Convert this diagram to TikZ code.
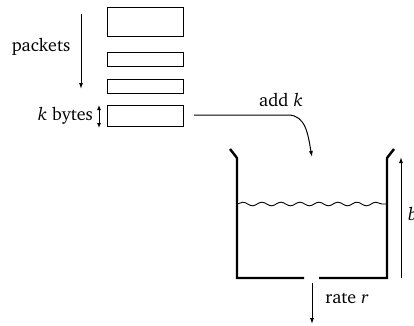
\documentclass[tikz,border=0pt]{standalone}
\usepackage[T1]{fontenc}
\usepackage{charter}
\usetikzlibrary{arrows.meta,decorations.pathmorphing}
\tikzset{
  packet/.style={draw, line width=1pt, inner sep=0pt, minimum width=76pt},
  wall/.style={line width=2.4pt},
  thin arrow/.style={line width=1pt, -{Latex[length=6pt,width=4pt]}},
  lbl/.style={inner sep=1pt, font=\fontsize{18}{21}\selectfont}
}
\begin{document}
\begin{tikzpicture}[x=1pt, y=-1pt]
  \useasboundingbox (0,0) rectangle (414,325);
  % queue of packets
  \node[packet, minimum height=29pt] (p1) at (145,22) {};
  \node[packet, minimum height=14pt] (p2) at (145,59) {};
  \node[packet, minimum height=14pt] (p3) at (145,86) {};
  \node[packet, minimum height=21pt] (p4) at (145,116) {};
  % direction of arrival
  \coordinate (qtop) at (81,14);
  \coordinate (qbot) at (81,89);
  \draw[thin arrow] (qtop) -- (qbot);
  \node[lbl] (pk) at (41,47) {packets};
  % packet size
  \coordinate (kt) at (99,105);
  \coordinate (kb) at (99,128);
  \draw[line width=1pt, {Latex[length=5pt,width=4pt]}-{Latex[length=5pt,width=4pt]}] (kt) -- (kb);
  \node[lbl, anchor=east] (kbytes) at (94,116) {\textit{k} bytes};
  % packet dropped into the bucket
  \coordinate (addst) at (194,115);
  \coordinate (addk) at (312,157);
  \draw[thin arrow] (addst) -- (288,115) .. controls (306,115) and (308,135) .. (addk);
  \node[lbl] (addlbl) at (281,100) {add \textit{k}};
  % bucket
  \coordinate (lt) at (230,149);
  \coordinate (ls) at (237,158);
  \coordinate (lb) at (237,278);
  \coordinate (ho) at (304,278);
  \coordinate (hi) at (319,278);
  \coordinate (rb) at (387,278);
  \coordinate (rs) at (387,158);
  \coordinate (rt) at (394,149);
  \draw[wall, line join=miter] (lt) -- (ls) -- (lb) -- (ho);
  \draw[wall, line join=miter] (hi) -- (rb) -- (rs) -- (rt);
  % water level
  \draw[line width=0.9pt, decorate, decoration={snake, segment length=19pt, amplitude=1.8pt}] (237,204) -- (387,204);
  % bucket depth
  \coordinate (bb) at (401,278);
  \coordinate (bt) at (401,157);
  \draw[thin arrow] (bb) -- (bt);
  \node[lbl, anchor=west] (blbl) at (407,214) {\textit{b}};
  % outflow
  \coordinate (os) at (312,283);
  \coordinate (oe) at (312,324);
  \draw[thin arrow] (os) -- (oe);
  \node[lbl] (rate) at (347,299) {rate \textit{r}};
\end{tikzpicture}
\end{document}
